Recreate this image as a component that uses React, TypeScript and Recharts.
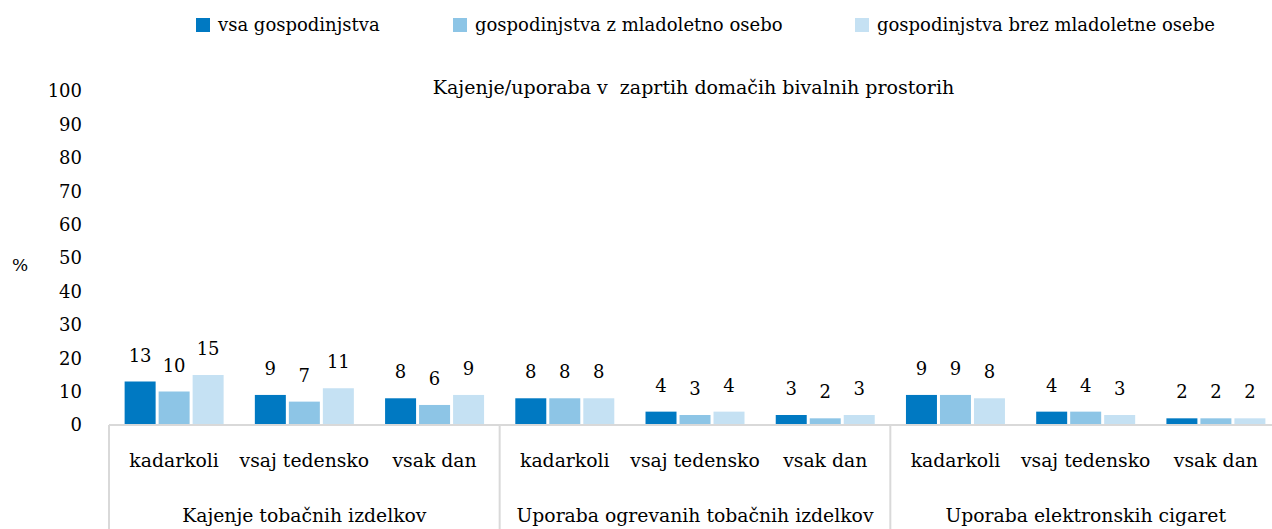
import { BarChart, Bar, XAxis, YAxis, LabelList } from "recharts";

const FONT = "'DejaVu Serif', serif";

const categories = [
  "kadarkoli", "vsaj tedensko", "vsak dan",
  "kadarkoli", "vsaj tedensko", "vsak dan",
  "kadarkoli", "vsaj tedensko", "vsak dan",
];
const groups = [
  "Kajenje tobačnih izdelkov",
  "Uporaba ogrevanih tobačnih izdelkov",
  "Uporaba elektronskih cigaret",
];
const vsaGosp = [13, 9, 8, 8, 4, 3, 9, 4, 2];
const zMladoletno = [10, 7, 6, 8, 3, 2, 9, 4, 2];
const brezMladoletne = [15, 11, 9, 8, 4, 3, 8, 3, 2];
const yTicks = [0, 10, 20, 30, 40, 50, 60, 70, 80, 90, 100];

const seriesNames = [
  "vsa gospodinjstva",
  "gospodinjstva z mladoletno osebo",
  "gospodinjstva brez mladoletne osebe",
];
const COLORS = ["#0079c2", "#8dc5e6", "#c5e1f3"];
const legendLeft = [196, 453, 855];

const data = categories.map((c, i) => ({
  key: String(i),
  sub: c,
  vsa: vsaGosp[i],
  zMlad: zMladoletno[i],
  brezMlad: brezMladoletne[i],
}));

const CHART_W = 1281;
const LEFT = 109;
const BAND = (CHART_W - LEFT) / categories.length;

function XTick(props: any) {
  const { x, y, payload } = props;
  const i = payload.index;
  return (
    <g>
      <text
        x={x}
        y={y + 42}
        textAnchor="middle"
        fontSize={18.8}
        fontFamily={FONT}
        fill="#000"
      >
        {categories[i]}
      </text>
      {i % 3 === 1 && (
        <text
          x={x}
          y={y + 97}
          textAnchor="middle"
          fontSize={18.8}
          fontFamily={FONT}
          fill="#000"
        >
          {groups[Math.floor(i / 3)]}
        </text>
      )}
      {i % 3 === 0 && (
        <line
          x1={x - BAND / 2}
          x2={x - BAND / 2}
          y1={y}
          y2={y + 110}
          stroke="#d9d9d9"
          strokeWidth={2}
        />
      )}
    </g>
  );
}

export default function App() {
  return (
    <div
      style={{
        position: "absolute",
        left: 0,
        top: 0,
        width: 1272,
        height: 529,
        overflow: "hidden",
        background: "#fff",
        fontFamily: FONT,
      }}
    >
      {/* legend */}
      {seriesNames.map((n, i) => (
        <div
          key={n}
          style={{
            position: "absolute",
            left: legendLeft[i],
            top: 14,
            display: "flex",
            alignItems: "center",
            fontSize: 18,
            lineHeight: "22px",
            color: "#000",
            whiteSpace: "nowrap",
          }}
        >
          <span
            style={{
              width: 14,
              height: 14,
              background: COLORS[i],
              marginRight: 8,
              display: "inline-block",
            }}
          />
          {n}
        </div>
      ))}

      {/* title */}
      <div
        style={{
          position: "absolute",
          left: 0,
          width: 1387,
          top: 75,
          textAlign: "center",
          fontSize: 19,
          lineHeight: "24px",
          color: "#000",
          whiteSpace: "pre",
        }}
      >
        {"Kajenje/uporaba v  zaprtih domačih bivalnih prostorih"}
      </div>

      <div
        style={{
          position: "absolute",
          left: 12,
          top: 254,
          fontSize: 17,
          lineHeight: "22px",
          color: "#000",
        }}
      >
        %
      </div>

      <BarChart
        width={CHART_W}
        height={529}
        data={data}
        margin={{ top: 91, right: 0, left: 0, bottom: 0 }}
        barCategoryGap="12%"
        barGap={3}
      >
        <YAxis
          width={LEFT}
          domain={[0, 100]}
          ticks={yTicks}
          axisLine={false}
          tickLine={false}
          tickSize={6}
          tickMargin={21}
          interval={0}
          tick={{ fontSize: 18, fontFamily: FONT, fill: "#000" }}
        />
        <XAxis
          dataKey="key"
          height={104}
          interval={0}
          tickLine={false}
          tickSize={0}
          tickMargin={0}
          axisLine={{ stroke: "#d9d9d9", strokeWidth: 2 }}
          tick={<XTick />}
        />
        <Bar dataKey="vsa" fill={COLORS[0]} isAnimationActive={false}>
          <LabelList
            dataKey="vsa"
            position="top"
            offset={20}
            fill="#000"
            fontSize={18}
            fontFamily={FONT}
          />
        </Bar>
        <Bar dataKey="zMlad" fill={COLORS[1]} isAnimationActive={false}>
          <LabelList
            dataKey="zMlad"
            position="top"
            offset={20}
            fill="#000"
            fontSize={18}
            fontFamily={FONT}
          />
        </Bar>
        <Bar dataKey="brezMlad" fill={COLORS[2]} isAnimationActive={false}>
          <LabelList
            dataKey="brezMlad"
            position="top"
            offset={20}
            fill="#000"
            fontSize={18}
            fontFamily={FONT}
          />
        </Bar>
      </BarChart>
    </div>
  );
}
